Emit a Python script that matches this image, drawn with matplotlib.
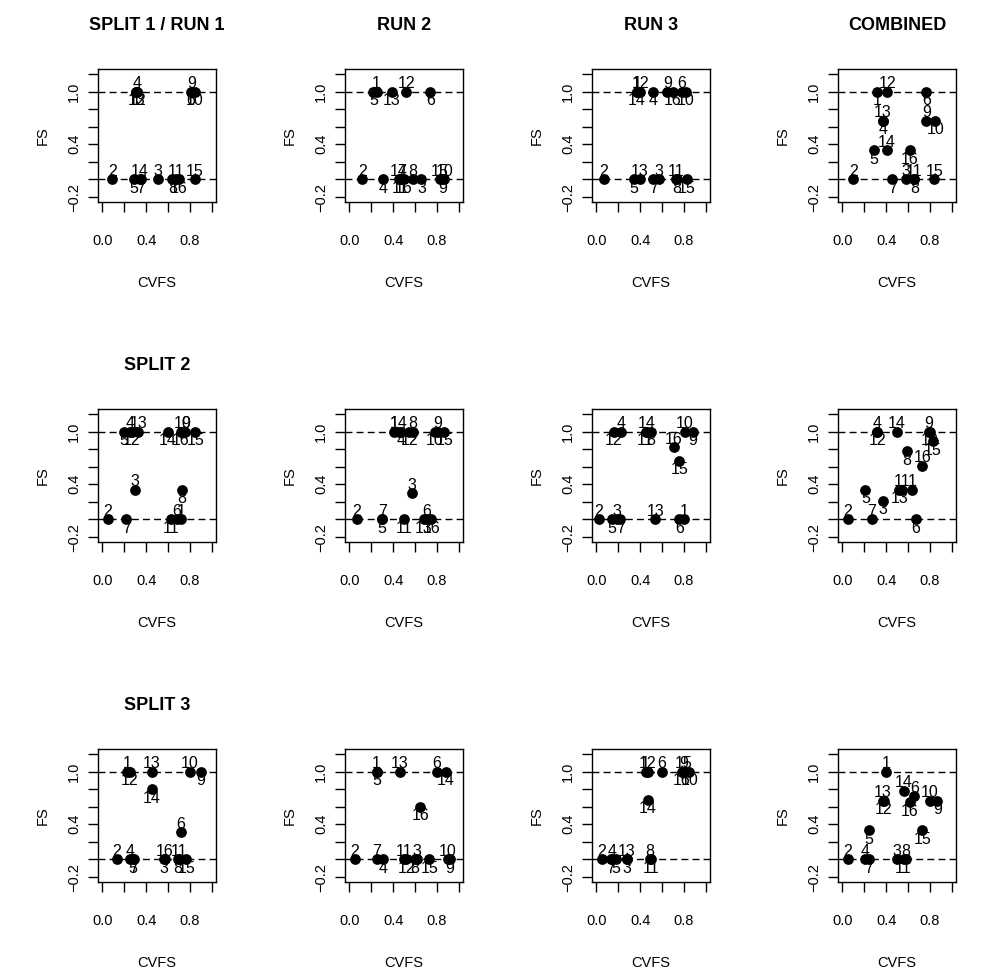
import matplotlib.pyplot as plt
import numpy as np

plt.rcParams['font.family'] = ['Liberation Sans', 'DejaVu Sans']

ids = list(range(1, 17))

# split 1 -- CVFS / FS / label side (a = above, b = below), ids 1..16
s1_run1_cvfs = [0.31, 0.09, 0.51, 0.32, 0.29, 0.81, 0.35, 0.64, 0.82, 0.845, 0.67, 0.32, 0.31, 0.34, 0.845, 0.70]
s1_run1_fs = [1, 0, 0, 1, 0, 1, 0, 0, 1, 1, 0, 1, 1, 0, 0, 0]
s1_run1_pos = 'baaabbbbababbaab'

s1_run2_cvfs = [0.25, 0.12, 0.66, 0.31, 0.22, 0.74, 0.48, 0.58, 0.85, 0.87, 0.46, 0.52, 0.39, 0.45, 0.83, 0.50]
s1_run2_fs = [1, 0, 0, 0, 1, 1, 0, 0, 0, 0, 0, 1, 1, 0, 0, 0]
s1_run2_pos = 'aabbbbaabababaab'

s1_run3_cvfs = [0.37, 0.07, 0.57, 0.52, 0.34, 0.78, 0.52, 0.74, 0.65, 0.82, 0.73, 0.40, 0.40, 0.37, 0.83, 0.70]
s1_run3_fs = [1, 0, 0, 1, 0, 1, 0, 0, 1, 1, 0, 1, 0, 1, 0, 1]
s1_run3_pos = 'aaabbabbabaaabbb'

s1_comb_cvfs = [0.32, 0.10, 0.58, 0.37, 0.29, 0.77, 0.455, 0.66, 0.77, 0.85, 0.66, 0.41, 0.37, 0.41, 0.84, 0.62]
s1_comb_fs = [1, 0, 0, 0.667, 0.333, 1, 0, 0, 0.667, 0.667, 0, 1, 0.667, 0.333, 0, 0.333]
s1_comb_pos = 'baabbbbbabaaaaab'

# split 2
s2_run1_cvfs = [0.72, 0.05, 0.30, 0.25, 0.20, 0.68, 0.22, 0.73, 0.76, 0.73, 0.63, 0.27, 0.33, 0.60, 0.85, 0.72]
s2_run1_fs = [0, 0, 0.34, 1, 1, 0, 0, 0.34, 1, 1, 0, 1, 1, 1, 1, 1]
s2_run1_pos = 'aaaababbaabbabbb'

s2_run2_cvfs = [0.41, 0.07, 0.57, 0.47, 0.30, 0.71, 0.30, 0.58, 0.81, 0.78, 0.50, 0.55, 0.68, 0.45, 0.87, 0.75]
s2_run2_fs = [1, 0, 0.30, 1, 0, 0, 0, 1, 1, 1, 0, 1, 0, 1, 1, 0]
s2_run2_pos = 'aaabbaaaabbbbabb'

s2_run3_cvfs = [0.80, 0.02, 0.19, 0.23, 0.14, 0.76, 0.22, 0.50, 0.88, 0.81, 0.45, 0.16, 0.54, 0.46, 0.76, 0.71]
s2_run3_fs = [0, 0, 0, 1, 0, 0, 0, 1, 1, 1, 1, 1, 0, 1, 0.67, 0.82]
s2_run3_pos = 'aaaabbbbbabbaaba'

s2_comb_cvfs = [0.64, 0.05, 0.37, 0.32, 0.21, 0.67, 0.27, 0.59, 0.79, 0.80, 0.55, 0.32, 0.52, 0.50, 0.83, 0.73]
s2_comb_fs = [0.34, 0, 0.21, 1, 0.34, 0, 0, 0.775, 1, 1, 0.34, 1, 0.34, 1, 0.89, 0.61]
s2_comb_pos = 'aababbabababbaba'

# split 3
s3_run1_cvfs = [0.23, 0.13, 0.56, 0.25, 0.28, 0.72, 0.29, 0.69, 0.90, 0.80, 0.70, 0.25, 0.45, 0.45, 0.77, 0.57]
s3_run1_fs = [1, 0, 0, 0, 0, 0.31, 0, 0, 1, 1, 0, 1, 1, 0.80, 0, 0]
s3_run1_pos = 'aabababbbaababba'

s3_run2_cvfs = [0.25, 0.05, 0.62, 0.31, 0.25, 0.80, 0.25, 0.60, 0.92, 0.90, 0.50, 0.52, 0.46, 0.88, 0.73, 0.65]
s3_run2_fs = [1, 0, 0, 0, 1, 1, 0, 0, 0, 0, 0, 0, 1, 1, 0, 0.60]
s3_run2_pos = 'aaabbaabbaababbb'

s3_run3_cvfs = [0.45, 0.05, 0.28, 0.14, 0.18, 0.60, 0.13, 0.49, 0.80, 0.85, 0.50, 0.47, 0.28, 0.47, 0.80, 0.78]
s3_run3_fs = [1, 0, 0, 0, 0, 1, 0, 0, 1, 1, 0, 1, 0, 0.68, 1, 1]
s3_run3_pos = 'aabababaabbaabab'

s3_comb_cvfs = [0.40, 0.05, 0.50, 0.21, 0.24, 0.66, 0.24, 0.58, 0.87, 0.80, 0.56, 0.38, 0.37, 0.56, 0.73, 0.62]
s3_comb_fs = [1, 0, 0, 0, 0.33, 0.72, 0, 0, 0.67, 0.67, 0, 0.67, 0.67, 0.78, 0.33, 0.65]
s3_comb_pos = 'aaaababababbaabb'

panels = [
    [(s1_run1_cvfs, s1_run1_fs, s1_run1_pos), (s1_run2_cvfs, s1_run2_fs, s1_run2_pos),
     (s1_run3_cvfs, s1_run3_fs, s1_run3_pos), (s1_comb_cvfs, s1_comb_fs, s1_comb_pos)],
    [(s2_run1_cvfs, s2_run1_fs, s2_run1_pos), (s2_run2_cvfs, s2_run2_fs, s2_run2_pos),
     (s2_run3_cvfs, s2_run3_fs, s2_run3_pos), (s2_comb_cvfs, s2_comb_fs, s2_comb_pos)],
    [(s3_run1_cvfs, s3_run1_fs, s3_run1_pos), (s3_run2_cvfs, s3_run2_fs, s3_run2_pos),
     (s3_run3_cvfs, s3_run3_fs, s3_run3_pos), (s3_comb_cvfs, s3_comb_fs, s3_comb_pos)],
]
titles = [['SPLIT 1 / RUN 1', 'RUN 2', 'RUN 3', 'COMBINED'],
          ['SPLIT 2', '', '', ''],
          ['SPLIT 3', '', '', '']]

W, H = 987, 972
fig = plt.figure(figsize=(W / 100, H / 100), dpi=100)

lefts = [98, 345, 592, 838]
tops = [69, 409, 749]
bw, bh = 118, 133

xt = np.arange(0, 1.01, 0.2)
yt = np.arange(-0.2, 1.21, 0.2)
xtl = ['0.0', '', '0.4', '', '0.8', '']
ytl = ['\u22120.2', '', '', '0.4', '', '', '1.0', '']

for r in range(3):
    for c in range(4):
        x, y, pos = panels[r][c]
        ax = fig.add_axes([lefts[c] / W, 1 - (tops[r] + bh) / H, bw / W, bh / H])
        ax.set_xlim(-0.04, 1.04)
        ax.set_ylim(-0.256, 1.256)
        ax.axhline(1, color='black', lw=1, ls=(0, (5, 3)))
        ax.axhline(0, color='black', lw=1, ls=(0, (5, 3)))
        ax.scatter(x, y, s=60, color='black', zorder=3, linewidths=0)
        for i, xi, yi, p in zip(ids, x, y, pos):
            if p == 'a':
                ax.annotate(str(i), (xi, yi), xytext=(0, 2.5), textcoords='offset points',
                            ha='center', va='baseline', fontsize=11.5)
            else:
                ax.annotate(str(i), (xi, yi), xytext=(0, -1), textcoords='offset points',
                            ha='center', va='top', fontsize=11.5)
        ax.set_xticks(xt, xtl)
        ax.set_yticks(yt, ytl, rotation=90, va='center')
        ax.tick_params(axis='x', direction='out', length=7, width=1, labelsize=10.5, pad=16)
        ax.tick_params(axis='y', direction='out', length=7, width=1, labelsize=10.5, pad=5)
        for s in ax.spines.values():
            s.set_linewidth(1)
        ax.set_xlabel('CVFS', fontsize=10.5, labelpad=20)
        ax.set_ylabel('FS', fontsize=10.5, labelpad=13)
        if titles[r][c]:
            ax.set_title(titles[r][c], fontsize=13, fontweight='bold', pad=28)

fig.savefig('out.png', dpi=100)
